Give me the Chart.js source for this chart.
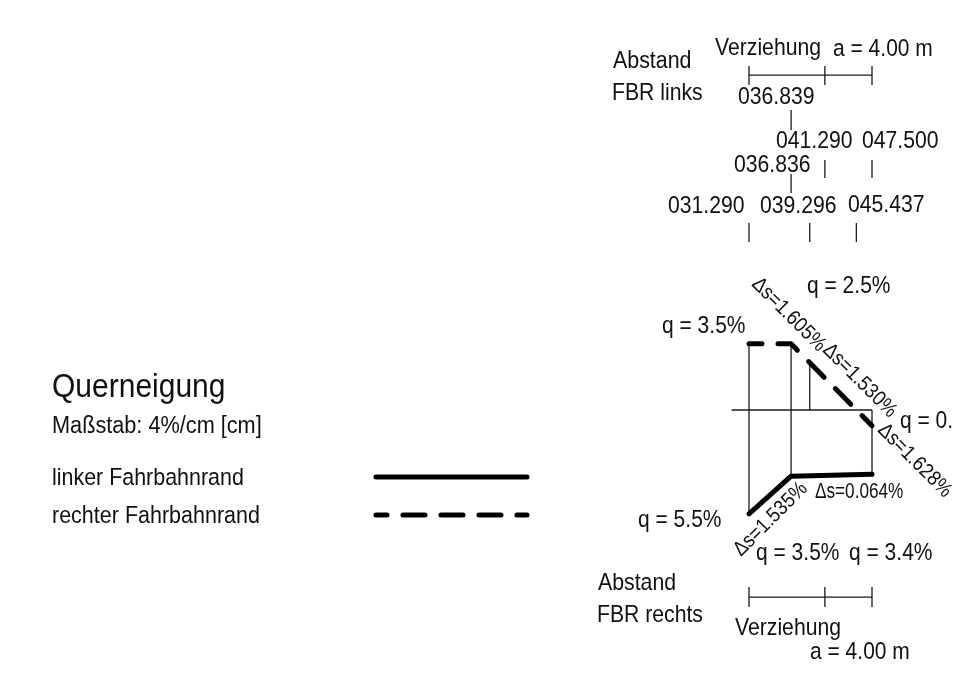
<!DOCTYPE html>
<html>
<head>
<meta charset="utf-8">
<style>
  html, body { margin: 0; padding: 0; background: #fff; overflow: hidden; }
  canvas { display: block; }
</style>
<script src="https://cdn.jsdelivr.net/npm/chart.js@4/dist/chart.umd.min.js"></script>
</head>
<body>
<canvas id="myChart" width="955" height="675"></canvas>
<script>
// stations in metres, cross slope in %
const leftStations = [31.29, 36.836, 47.5];
const leftSlopes = [-5.5, -3.5, -3.4];
const rightStations = [31.29, 36.839, 47.5];
const rightSlopes = [3.5, 3.5, -0.83];

const zeroStations = [29.0, 47.5];
const verticalStations = [31.29, 36.836, 39.296, 47.5];
const verticalTops = [3.5, 3.5, 2.5, 0];
const verticalBottoms = [-5.5, -3.5, 0, -3.4];

const verziehungStations = [31.29, 41.29, 47.5];
const linksStations = [36.839];
const rechtsTopStations = [41.29, 47.5];
const rechtsMidStations = [36.836];
const rechtsLowStations = [31.29, 39.296, 45.437];

// vertical extents of the drawn ticks, same unit as the slope axis
const topBarLevels = [18.2, 17.72, 17.2];
const bottomBarLevels = [-9.37, -9.9, -10.42];
const linksTickLevels = [15.87, 14.81];
const rechtsTopTickLevels = [13.23, 12.28];
const rechtsMidTickLevels = [12.49, 11.48];
const rechtsLowTickLevels = [9.89, 8.89];

// legend samples, same units
const legendStations = [-17.87, 2.03];
const legendLeftLevel = [-3.54, -3.54];
const legendRightLevel = [-5.56, -5.56];

const INK = "#1a1a1a";
const PX_PER_M = 7.588;
const PX_PER_PCT = 18.9;
const ZERO_X = 749 - 31.29 * PX_PER_M;
const ZERO_Y = 410;
const TEXT_STRETCH = 1.13; // the drawing font is narrower than Liberation Sans

const texts = [
  "Abstand", "FBR links", "Verziehung", "a = 4.00 m",
  "036.839", "041.290", "047.500", "036.836", "031.290", "039.296", "045.437",
  "q = 2.5%", "q = 3.5%", "q = 0.", "q = 5.5%", "q = 3.5%", "q = 3.4%",
  "Abstand", "FBR rechts", "Verziehung", "a = 4.00 m",
  "Querneigung", "Maßstab: 4%/cm [cm]", "linker Fahrbahnrand", "rechter Fahrbahnrand",
  "Δs=0.064%", "Δs=1.605%", "Δs=1.530%", "Δs=1.628%", "Δs=1.535%",
];
// x, baseline, font size, rotation in degrees, optional own stretch (one entry per text)
const textPlaces = [
  [613, 68, 21.4, 0], [612, 100, 21.2, 0], [715, 55, 21.2, 0], [833, 55.5, 21, 0],
  [738, 104, 21.2, 0], [776, 148, 21.2, 0], [862, 148, 21.2, 0], [734, 172, 21.2, 0],
  [668, 213, 21.2, 0], [760, 213, 21.2, 0], [848, 212, 21.2, 0],
  [807, 293, 21, 0], [662, 333, 21, 0], [900, 428, 21, 0], [638, 527, 21, 0],
  [756, 560, 21, 0], [849, 560, 21, 0],
  [598, 590, 21.3, 0], [597, 622, 21.2, 0], [735, 635, 21.2, 0], [810, 659, 21, 0],
  [52, 397, 30, 0], [52, 433, 21.7, 0], [52, 485, 21.45, 0], [52, 523, 21.5, 0],
  [815, 498, 17.2, 0, 1.3], [751, 285, 18.5, 45], [822, 351, 18.5, 45], [877, 431, 18.5, 45], [741, 557, 18.5, -45],
];

function polyline(xs, ys) {
  return xs.map((x, i) => ({ x: x, y: ys[i] }));
}

// one vertical stroke per station, split with empty points
function tickRow(stations, levels) {
  const points = [];
  stations.forEach((s) => {
    points.push({ x: s, y: levels[0] });
    points.push({ x: s, y: levels[levels.length - 1] });
    points.push({ x: s, y: null });
  });
  return points;
}

function verticals() {
  const points = [];
  verticalStations.forEach((s, i) => {
    points.push({ x: s, y: verticalTops[i] });
    points.push({ x: s, y: verticalBottoms[i] });
    points.push({ x: s, y: null });
  });
  return points;
}

function thinLine(data) {
  return { data: data, borderColor: INK, borderWidth: 1.3, order: 5 };
}

function thickLine(label, data, dashOffset) {
  return {
    label: label,
    data: data,
    borderColor: "#000",
    borderWidth: 5,
    borderCapStyle: "round",
    borderJoinStyle: "round",
    borderDash: dashOffset === null ? [] : [22, 16],
    borderDashOffset: dashOffset === null ? 0 : dashOffset,
    order: 1,
  };
}

const datasets = [
  thickLine("linker Fahrbahnrand", polyline(leftStations, leftSlopes), null),
  thickLine("rechter Fahrbahnrand", polyline(rightStations, rightSlopes), 9),
  thickLine("", polyline(legendStations, legendLeftLevel), null),
  thickLine("", polyline(legendStations, legendRightLevel), 11),
  thinLine(polyline(zeroStations, [0, 0])),
  thinLine(verticals()),
  thinLine(tickRow(verziehungStations, topBarLevels)),
  thinLine(polyline([verziehungStations[0], verziehungStations[2]], [topBarLevels[1], topBarLevels[1]])),
  thinLine(tickRow(verziehungStations, bottomBarLevels)),
  thinLine(polyline([verziehungStations[0], verziehungStations[2]], [bottomBarLevels[1], bottomBarLevels[1]])),
  thinLine(tickRow(linksStations, linksTickLevels)),
  thinLine(tickRow(rechtsTopStations, rechtsTopTickLevels)),
  thinLine(tickRow(rechtsMidStations, rechtsMidTickLevels)),
  thinLine(tickRow(rechtsLowStations, rechtsLowTickLevels)),
];

const sheetTexts = {
  id: "sheetTexts",
  afterDraw(chart) {
    const c = chart.ctx;
    c.save();
    c.fillStyle = "#111";
    c.textBaseline = "alphabetic";
    c.textAlign = "left";
    texts.forEach((t, i) => {
      const p = textPlaces[i];
      c.save();
      c.translate(p[0], p[1]);
      c.rotate((p[3] * Math.PI) / 180);
      c.scale(1, p[4] || TEXT_STRETCH);
      c.font = p[2] + 'px "Liberation Sans", Arial, sans-serif';
      c.fillText(t, 0, 0);
      c.restore();
    });
    c.restore();
  },
};

const ctx = document.getElementById("myChart").getContext("2d");
new Chart(ctx, {
  type: "scatter",
  data: { datasets: datasets },
  plugins: [sheetTexts],
  options: {
    responsive: false,
    animation: false,
    showLine: true,
    spanGaps: false,
    layout: { padding: 0 },
    elements: { point: { radius: 0, hoverRadius: 0 }, line: { tension: 0 } },
    scales: {
      x: { type: "linear", display: false, min: -ZERO_X / PX_PER_M, max: (955 - ZERO_X) / PX_PER_M },
      y: { type: "linear", display: false, min: (ZERO_Y - 675) / PX_PER_PCT, max: ZERO_Y / PX_PER_PCT },
    },
    plugins: { legend: { display: false }, tooltip: { enabled: false } },
  },
});
</script>
</body>
</html>
